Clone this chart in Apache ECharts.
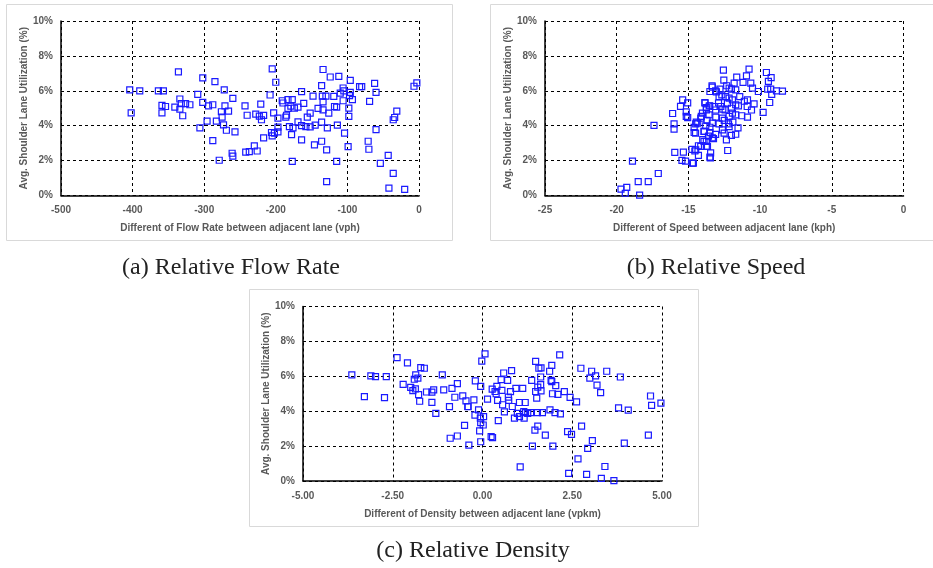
<!DOCTYPE html>
<html>
<head>
<meta charset="utf-8">
<script src="https://cdn.jsdelivr.net/npm/echarts@6/dist/echarts.min.js"></script>
<style>
  html, body { margin: 0; padding: 0; background: #fff; }
  #chart { width: 933px; height: 568px; }
</style>
</head>
<body>
<div id="chart"></div>
<script>
// (a) difference of flow rate (vph) vs shoulder lane utilization (%)
const flowRate = [
  [-404, 6.05], [-402, 4.74], [-390, 6.0], [-364, 6.0], [-357, 6.0], [-336, 7.08], [-334, 5.53],
  [-332, 5.26], [-334, 4.95], [-359, 5.16], [-359, 4.74], [-354, 5.1], [-341, 5.07], [-330, 4.57],
  [-326, 5.26], [-320, 5.2], [-309, 5.8], [-306, 3.88], [-302, 6.74], [-302, 5.34], [-296, 4.26],
  [-294, 5.14], [-288, 5.2], [-288, 3.15], [-285, 6.53], [-283, 4.26], [-279, 2.02], [-276, 4.8],
  [-275, 4.49], [-273, 4.05], [-272, 6.05], [-271, 5.14], [-269, 3.74], [-266, 4.84], [-260, 5.57],
  [-261, 2.42], [-260, 2.26], [-257, 3.65], [-243, 5.14], [-240, 4.6], [-242, 2.48], [-237, 2.51],
  [-230, 2.84], [-228, 4.66], [-226, 2.55], [-223, 4.55], [-221, 5.24], [-220, 4.34], [-217, 4.59],
  [-217, 3.3], [-208, 5.76], [-205, 7.26], [-203, 4.74], [-200, 6.49], [-206, 3.61], [-205, 3.42],
  [-202, 3.57], [-197, 4.43], [-197, 3.92], [-197, 3.65], [-191, 5.43], [-190, 5.3], [-186, 4.49],
  [-185, 4.6], [-183, 5.49], [-183, 4.99], [-181, 3.95], [-179, 5.12], [-177, 5.49], [-178, 3.49],
  [-177, 1.96], [-176, 3.88], [-174, 5.01], [-169, 5.07], [-169, 4.22], [-164, 5.95], [-164, 4.01],
  [-164, 3.19], [-161, 5.28], [-158, 3.95], [-156, 4.49], [-152, 4.72], [-152, 3.93], [-148, 5.7],
  [-146, 2.9], [-145, 4.03], [-141, 4.99], [-136, 6.3], [-136, 4.2], [-136, 3.11], [-134, 7.22],
  [-135, 5.7], [-134, 5.37], [-134, 4.91], [-130, 5.7], [-129, 2.61], [-129, 0.79], [-128, 3.88],
  [-126, 4.72], [-124, 6.79], [-119, 5.68], [-118, 5.1], [-115, 5.07], [-114, 4.03], [-115, 1.96],
  [-112, 6.83], [-110, 5.87], [-106, 6.16], [-106, 5.43], [-105, 6.0], [-104, 3.57], [-99, 2.8],
  [-98, 5.01], [-98, 4.53], [-97, 5.72], [-96, 6.6], [-96, 5.91], [-93, 5.49], [-83, 6.24],
  [-80, 6.24], [-69, 5.39], [-71, 3.11], [-70, 2.65], [-62, 6.43], [-60, 5.91], [-60, 3.78],
  [-54, 1.84], [-43, 2.3], [-42, 0.42], [-36, 1.27], [-36, 4.34], [-34, 4.47], [-31, 4.84],
  [-20, 0.35], [-7, 6.26], [-3, 6.45]
];

// (b) difference of speed (kph) vs shoulder lane utilization (%)
const speedDiff = [
  [-19.7, 0.36], [-19.3, 0.46], [-19.4, 0.13], [-18.4, 0.02], [-18.5, 0.8], [-17.8, 0.8], [-17.1, 1.26],
  [-18.9, 1.97], [-17.4, 4.02], [-16.1, 4.7], [-16.0, 4.1], [-16.0, 3.8], [-15.4, 5.48], [-15.55, 5.11],
  [-15.05, 5.31], [-15.15, 4.79], [-15.15, 4.54], [-15.05, 4.46], [-15.95, 2.47], [-15.45, 2.01],
  [-15.2, 1.97], [-14.75, 2.64], [-14.65, 1.86], [-14.6, 3.9], [-14.5, 3.58], [-14.45, 4.2],
  [-14.3, 2.85], [-14.3, 2.3], [-15.35, 2.48], [-14.55, 2.55], [-14.1, 4.54], [-14.35, 4.15],
  [-13.85, 5.33], [-13.75, 5.04], [-13.55, 5.13], [-13.35, 6.28], [-13.5, 5.96], [-13.1, 6.0],
  [-13.7, 4.3], [-13.5, 3.91], [-13.9, 3.67], [-13.5, 3.6], [-13.25, 3.26], [-13.75, 3.1],
  [-13.75, 2.82], [-13.5, 2.2], [-13.45, 2.44],
  [-12.56, 7.19], [-10.77, 7.24], [-9.56, 7.05], [-11.63, 6.78], [-10.95, 6.86], [-12.53, 6.61],
  [-9.23, 6.75], [-9.42, 6.54], [-11.19, 6.48], [-10.65, 6.44], [-11.81, 6.44], [-12.33, 6.29],
  [-12.16, 6.15], [-10.53, 6.15], [-10.12, 5.96], [-9.47, 6.1], [-9.26, 6.1], [-8.86, 6.0],
  [-8.44, 5.98], [-9.19, 5.79], [-13.05, 5.94], [-13.33, 6.21], [-9.33, 5.33], [-9.79, 4.76],
  [-10.42, 5.25], [-10.88, 4.49], [-11.51, 5.14], [-11.42, 5.67], [-10.88, 5.48], [-11.93, 5.48],
  [-11.28, 4.57], [-11.93, 4.72], [-12.44, 4.91], [-12.67, 5.77], [-12.86, 5.67], [-12.4, 5.67],
  [-12.16, 5.58], [-12.28, 5.29], [-12.74, 5.1], [-13.21, 5.1], [-13.51, 5.14], [-13.84, 5.29],
  [-13.74, 4.91], [-14.02, 4.72], [-13.56, 4.62], [-13.09, 4.49], [-12.63, 4.43], [-12.16, 4.53],
  [-11.7, 4.62], [-14.14, 4.43], [-14.49, 4.1], [-13.79, 3.99], [-13.33, 4.15], [-12.86, 4.1],
  [-12.16, 3.95], [-11.54, 3.88], [-12.63, 3.76], [-14.6, 3.61], [-13.91, 3.67], [-11.7, 3.51],
  [-12.51, 3.57], [-13.33, 3.3], [-12.35, 3.19], [-13.91, 3.1], [-14.14, 2.81], [-14.49, 2.62],
  [-13.67, 2.81], [-13.47, 2.16], [-14.72, 1.85], [-12.26, 2.58], [-12.0, 6.1], [-11.7, 6.05],
  [-12.8, 6.1], [-12.0, 5.0], [-11.7, 5.2], [-12.6, 4.95], [-13.1, 4.9], [-12.5, 4.3],
  [-12.2, 4.1], [-11.9, 4.2], [-10.9, 5.1], [-10.6, 4.9], [-11.1, 5.4], [-12.9, 5.3],
  [-12.0, 3.45], [-13.1, 3.5], [-14.0, 3.2], [-13.6, 3.4]
];

// (c) difference of density (vpkm) vs shoulder lane utilization (%)
const densityDiff = [
  [-3.64, 6.08], [-3.29, 4.84], [-3.11, 6.02], [-2.98, 5.98], [-2.73, 4.78], [-2.68, 5.98], [-2.38, 7.07],
  [-2.21, 5.54], [-2.09, 6.77], [-2.0, 5.37], [-1.94, 5.18], [-1.9, 5.83], [-1.87, 5.28], [-1.86, 6.08],
  [-1.8, 5.89], [-1.78, 4.95], [-1.75, 4.57], [-1.72, 6.5], [-1.62, 6.46], [-1.56, 5.1], [-1.41, 5.09],
  [-1.36, 5.22], [-1.41, 4.51], [-1.3, 3.88], [-1.12, 6.08], [-1.08, 5.22], [-0.9, 2.45], [-0.92, 4.26],
  [-0.85, 5.31], [-0.77, 4.8], [-0.7, 5.58], [-0.7, 2.58], [-0.55, 4.88], [-0.5, 3.19], [-0.46, 4.59],
  [-0.4, 4.26], [-0.38, 2.06], [-0.24, 4.65], [-0.21, 3.77], [-0.2, 5.74],
  [0.07, 7.29], [-0.02, 6.87], [-0.05, 5.42], [-0.41, 4.27], [-0.11, 4.08], [-0.06, 3.6], [0.03, 3.69],
  [-0.05, 3.35], [0.02, 3.21], [-0.08, 2.87], [-0.05, 2.25], [0.14, 4.69], [0.24, 2.54], [0.28, 2.48],
  [0.27, 5.27], [0.35, 5.13], [0.38, 5.0], [0.4, 5.42], [0.42, 4.62], [0.44, 3.46], [0.52, 5.81],
  [0.54, 5.19], [0.56, 4.37], [0.59, 6.19], [0.61, 3.96], [0.7, 5.77], [0.72, 4.81], [0.73, 4.62],
  [0.78, 5.12], [0.81, 6.33], [0.83, 4.27], [0.89, 3.6], [0.93, 5.31], [0.97, 3.88], [1.03, 4.5],
  [1.05, 0.81], [1.03, 3.69], [1.12, 5.31], [1.16, 3.6], [1.15, 3.98], [1.19, 4.5], [1.2, 3.92],
  [1.26, 3.88], [1.34, 3.92], [1.37, 5.77], [1.39, 2.0], [1.46, 2.92], [1.48, 6.85], [1.48, 5.13],
  [1.51, 4.75], [1.53, 3.92], [1.54, 3.15], [1.54, 5.38], [1.57, 6.46], [1.63, 6.48], [1.62, 5.96],
  [1.62, 5.52], [1.63, 5.17], [1.67, 3.92], [1.75, 2.63], [1.87, 6.29], [1.88, 4.08], [1.91, 5.77],
  [1.93, 6.63], [1.93, 5.69], [1.95, 5.0], [1.96, 2.0], [2.02, 3.92], [2.04, 5.46], [2.1, 4.96],
  [2.15, 7.23], [2.17, 3.85], [2.28, 5.12], [2.37, 2.83], [2.4, 0.44], [2.44, 4.79], [2.48, 2.67],
  [2.62, 4.54], [2.66, 1.27], [2.76, 3.15], [2.74, 6.46], [2.9, 0.38], [2.93, 1.87], [2.99, 5.9],
  [3.04, 6.29], [3.06, 2.31], [3.15, 6.02], [3.19, 5.5], [3.29, 5.06], [3.31, 0.15], [3.41, 0.83],
  [3.46, 6.29], [3.66, 0.02], [3.79, 4.19], [3.84, 5.96], [3.95, 2.17], [4.06, 4.06], [4.62, 2.63],
  [4.68, 4.87], [4.71, 4.33], [4.97, 4.46]
];

const yName = "Avg. Shoulder Lane Utilization (%)";
const captions = ["(a) Relative Flow Rate", "(b) Relative Speed", "(c) Relative Density"];

const labelStyle = { color: "#595959", fontFamily: "Liberation Sans", fontWeight: "bold", fontSize: 10 };
const nameStyle = { color: "#595959", fontFamily: "Liberation Sans", fontWeight: "bold", fontSize: 10 };
const dashed = { show: true, lineStyle: { color: "#000", type: [3, 3], width: 1 } };

function xAxisFor(idx, name, min, max, interval, fmt) {
  return {
    gridIndex: idx,
    type: "value",
    min, max, interval,
    name,
    nameLocation: "middle",
    nameGap: 28,
    nameTextStyle: nameStyle,
    axisLine: { onZero: false, lineStyle: { color: "#000", width: 1.5 } },
    axisTick: { show: false },
    axisLabel: Object.assign({ margin: 10, formatter: fmt }, labelStyle),
    splitLine: dashed,
  };
}

function yAxisFor(idx) {
  return {
    gridIndex: idx,
    type: "value",
    min: 0, max: 10, interval: 2,
    name: yName,
    nameLocation: "middle",
    nameGap: 30,
    nameTextStyle: nameStyle,
    axisLine: { show: true, onZero: false, lineStyle: { color: "#000", width: 1.5 } },
    axisTick: { show: false },
    axisLabel: Object.assign({ margin: 8, formatter: "{value}%" }, labelStyle),
    splitLine: dashed,
  };
}

function scatter(idx, data) {
  return {
    type: "scatter",
    xAxisIndex: idx,
    yAxisIndex: idx,
    data,
    symbol: "rect",
    symbolSize: 6,
    itemStyle: { color: "rgba(0,0,0,0)", borderColor: "#1a1aff", borderWidth: 1.2, opacity: 1 },
  };
}

const captionFont = '24px "Liberation Serif"';

const chart = echarts.init(document.getElementById("chart"));
chart.setOption({
  animation: false,
  grid: [
    { left: 61, top: 21, width: 358, height: 174.5 },
    { left: 545, top: 21, width: 358.5, height: 174.5 },
    { left: 303, top: 306.5, width: 359, height: 174.5 },
  ],
  xAxis: [
    xAxisFor(0, "Different of Flow Rate between adjacent lane (vph)", -500, 0, 100),
    xAxisFor(1, "Different of Speed between adjacent lane (kph)", -25, 0, 5),
    xAxisFor(2, "Different of Density between adjacent lane (vpkm)", -5, 5, 2.5, (v) => v.toFixed(2)),
  ],
  yAxis: [yAxisFor(0), yAxisFor(1), yAxisFor(2)],
  series: [scatter(0, flowRate), scatter(1, speedDiff), scatter(2, densityDiff)],
  graphic: [
    { type: "rect", shape: { x: 6.5, y: 4.5, width: 446, height: 236 }, style: { fill: "none", stroke: "#d9d9d9", lineWidth: 1 }, z: -1 },
    { type: "rect", shape: { x: 490.5, y: 4.5, width: 450, height: 236 }, style: { fill: "none", stroke: "#d9d9d9", lineWidth: 1 }, z: -1 },
    { type: "rect", shape: { x: 249.5, y: 289.5, width: 449, height: 237 }, style: { fill: "none", stroke: "#d9d9d9", lineWidth: 1 }, z: -1 },
    { type: "text", x: 231, y: 268, style: { text: captions[0], textAlign: "center", textVerticalAlign: "middle", font: captionFont, fill: "#222" } },
    { type: "text", x: 716, y: 268, style: { text: captions[1], textAlign: "center", textVerticalAlign: "middle", font: captionFont, fill: "#222" } },
    { type: "text", x: 473, y: 551, style: { text: captions[2], textAlign: "center", textVerticalAlign: "middle", font: captionFont, fill: "#222" } },
  ],
});
</script>
</body>
</html>
